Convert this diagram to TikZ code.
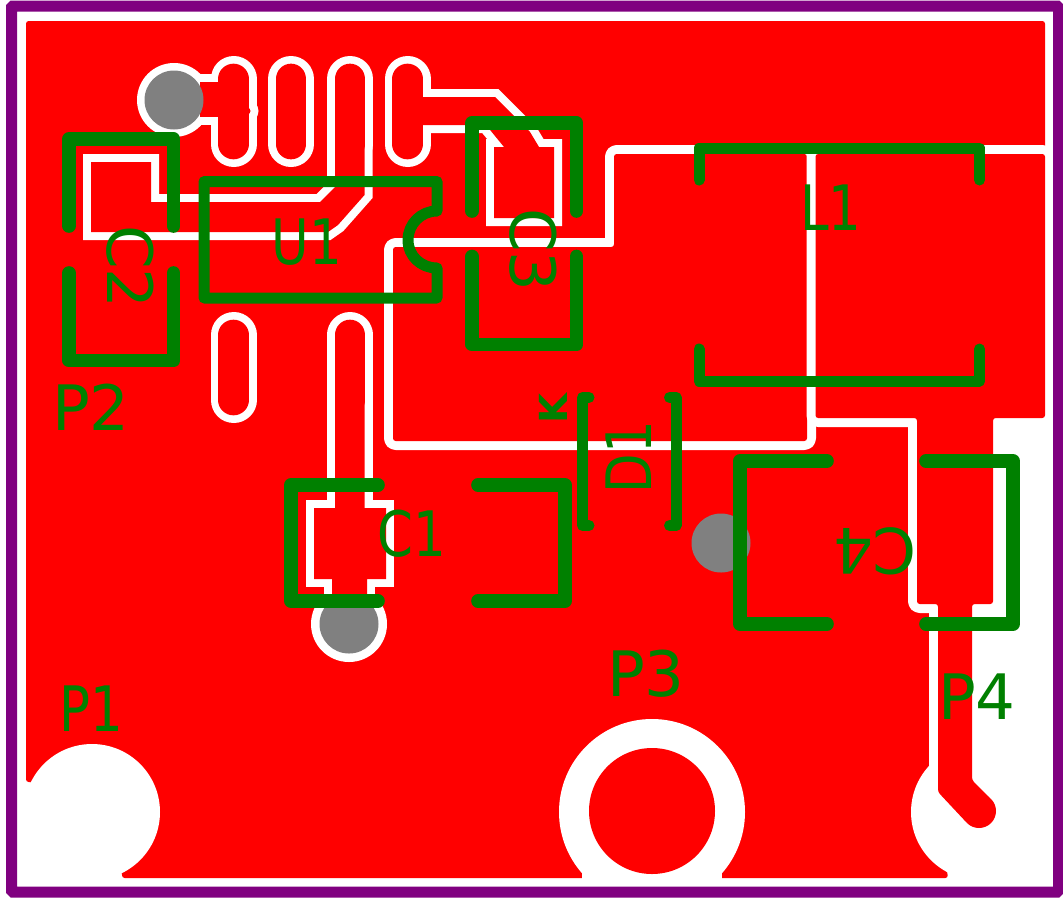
\documentclass[tikz,border=0pt]{standalone}
\usepackage{fontspec}
\newfontfamily\silkfont[FakeStretch=0.82]{DejaVu Sans}
\newfontfamily\silkwide{DejaVu Sans}
\definecolor{copper}{HTML}{FF0000}
\definecolor{silkgreen}{HTML}{008000}
\definecolor{edgepurple}{HTML}{800080}
\definecolor{viagray}{HTML}{808080}

\begin{document}
\begin{tikzpicture}[x=0.75pt,y=-0.75pt,
  zone/.style={rounded corners=2pt,fill=copper,preaction={draw=white,line width=13.5pt,line join=round}},
  pour/.style={fill=copper,preaction={draw=white,line width=12pt,line join=miter}},
  pad clear/.style={draw=white,line width=34.5pt,line cap=round},
  pad copper/.style={draw=copper,line width=23pt,line cap=round},
  silk/.style={draw=silkgreen,line width=10.25pt,line cap=round,line join=round},
  silk thin/.style={silk,line width=8.25pt},
  label/.style={text=silkgreen,inner sep=0pt,font=\silkfont\fontsize{47}{47}\selectfont},
  wide label/.style={label,font=\silkwide\fontsize{47}{47}\selectfont},
  small label/.style={label,font=\silkwide\bfseries\fontsize{29}{29}\selectfont}]

  \useasboundingbox (0,0) rectangle (1063,897);
  \fill[white] (0,0) rectangle (1063,897);

  \fill[copper,rounded corners=2pt] (26,21) -- (1045,21) -- (1045,150) -- (932,150) -- (932,765)
    -- (948,878) -- (122,878) -- (122,872) -- (32,782) -- (26,782) -- cycle;

  \fill[white] (92,812) circle[radius=68];
  \fill[white] (652,812) circle[radius=93];
  \fill[white] (582,860) rectangle (722,880);
  \fill[copper] (652,811) circle[radius=63];
  \fill[white] (979,812) circle[radius=68];

  \path[zone] (393,247) -- (614,247) -- (614,154) -- (807,154) -- (807,441) -- (393,441) -- cycle;
  \path[zone] (815.5,154) -- (1045,154) -- (1045,418) -- (993,418) -- (993,604) -- (972,604)
    -- (972,780) -- (991,799) -- (967,823) -- (938,792) -- (938,604) -- (917,604) -- (917,418)
    -- (815.5,418) -- cycle;
  \fill[copper] (979,811) circle[radius=17];

  \fill[white] (174,100) circle[radius=37];
  \fill[white] (349,624) circle[radius=38];
  \fill[white] (247,111) circle[radius=11.5];

  \draw[pad clear] (233.5,79) -- (233.5,144);
  \draw[pad clear] (291,79) -- (291,144);
  \draw[pad clear] (350,79) -- (350,144);
  \draw[pad clear] (407.5,79) -- (407.5,144);
  \draw[pad clear] (233.5,335) -- (233.5,400);
  \draw[pad clear] (350,335) -- (350,400);

  \path[pour] (200,82) -- (225,82) -- (225,117) -- (200,117) -- cycle;
  \path[pour] (91,162) -- (151,162) -- (151,202) -- (320,202) -- (335,187) -- (335,120) -- (364.5,120)
    -- (364.5,195) -- (338,225) -- (328,232) -- (91,232) -- cycle;
  \path[pour] (415,97) -- (495,97) -- (530,132) -- (539,147) -- (554,147) -- (554,218) -- (494,218)
    -- (494,147) -- (504,147) -- (486,125) -- (415,125) -- cycle;
  \path[pour] (335,340) -- (364.5,340) -- (364.5,508) -- (386,508) -- (386,579) -- (367,579) -- (367,610)
    -- (332,610) -- (332,579) -- (314,579) -- (314,508) -- (335,508) -- cycle;

  \fill[copper] (247,111) circle[radius=3.5];
  \draw[pad copper] (233.5,79) -- (233.5,144);
  \draw[pad copper] (291,79) -- (291,144);
  \draw[pad copper] (350,79) -- (350,144);
  \draw[pad copper] (407.5,79) -- (407.5,144);
  \draw[pad copper] (233.5,335) -- (233.5,400);
  \draw[pad copper] (350,335) -- (350,400);

  \fill[viagray] (174,100) circle[radius=29.5];
  \fill[viagray] (349,624) circle[radius=29.5];
  \fill[viagray] (721,543) circle[radius=29.5];

  \draw[silk] (69,226) -- (69,139) -- (173.5,139) -- (173.5,226);
  \draw[silk] (69,273) -- (69,360.5) -- (173.5,360.5) -- (173.5,273);
  \draw[silk] (472,211) -- (472,123) -- (576.5,123) -- (576.5,211);
  \draw[silk] (472,256.5) -- (472,344.5) -- (576.5,344.5) -- (576.5,256.5);
  \draw[silk] (378,485) -- (291,485) -- (291,601) -- (378,601);
  \draw[silk] (478,485) -- (565,485) -- (565,601) -- (478,601);
  \draw[silk] (827,461) -- (740,461) -- (740,624) -- (827,624);
  \draw[silk] (926,461) -- (1013,461) -- (1013,624) -- (926,624);
  \draw[silk thin] (204,181.5) -- (437,181.5) -- (437,211) .. controls (421,211) and (408,224) .. (408,240)
    .. controls (408,256) and (421,268) .. (437,268) -- (437,298) -- (204,298) -- cycle;
  \draw[silk thin] (699,180) -- (699,148) -- (979.5,148) -- (979.5,180);
  \draw[silk thin] (699,349) -- (699,381) -- (979.5,381) -- (979.5,349);
  \draw[silk thin] (589,397.5) -- (582.5,397.5) -- (582.5,525.5) -- (589,525.5);
  \draw[silk thin] (669.5,397.5) -- (676,397.5) -- (676,525.5) -- (669.5,525.5);

  \node[label] (u1) at (307,242.5) {U1};
  \node[wide label,rotate=-90] (c2) at (130,267) {C2};
  \node[wide label,rotate=-90] (c3) at (533,250) {C3};
  \node[label] (l1) at (831,207.5) {L1};
  \node[wide label] (p2) at (91,407.5) {P2};
  \node[label] (p1) at (91,709) {P1};
  \node[wide label] (p3) at (646,674) {P3};
  \node[wide label] (p4) at (977,697) {P4};
  \node[label] (c1) at (412,534) {C1};
  \node[label,rotate=90] (d1) at (629,457) {D1};
  \node[wide label,rotate=180] (c4) at (875,551.5) {C4};
  \node[small label,rotate=90] (k) at (553,409) {K};

  \draw[draw=edgepurple,line width=8.25pt,rounded corners=1pt] (11.5,6) rectangle (1058.5,892);
\end{tikzpicture}
\end{document}
